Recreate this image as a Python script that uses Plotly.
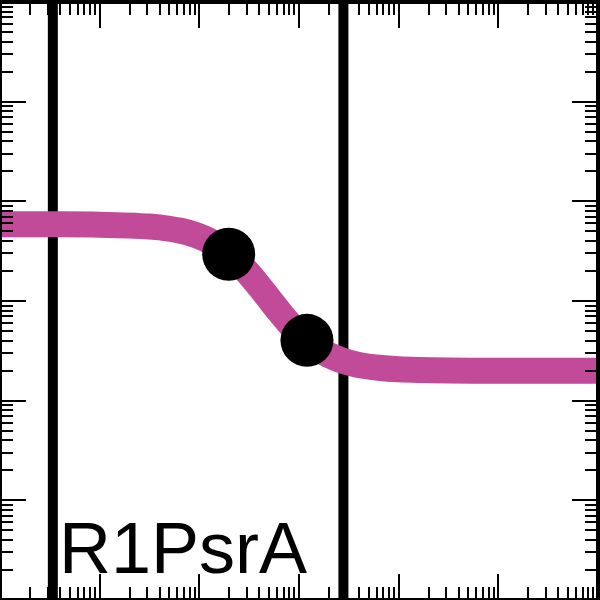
import plotly.graph_objects as go

# Fitted curve samples (x: concentration, y: signal), log-log axes
curve_x = [0.001, 0.00316, 0.01, 0.0316, 0.0501, 0.0631, 0.0794, 0.1, 0.126, 0.158,
           0.2, 0.251, 0.316, 0.398, 0.501, 0.631, 0.794, 1.0, 1.26, 1.58,
           2.0, 2.82, 3.98, 6.31, 10, 31.6, 100, 1000]
curve_y = [58884, 58800, 58345, 55847, 53088, 50933, 48084, 44463, 40087, 34995,
           29512, 23878, 18621, 14093, 10520, 7870, 5984, 4710, 3837, 3258,
           2864, 2495, 2286, 2138, 2065, 2009, 2000, 1995]

# Measured points
point_x = [0.197, 1.202]
point_y = [29512, 4027]

# Reference vertical lines
vline_x = [0.00339, 2.79]

label = "R1PsrA"

fig = go.Figure()
for vx in vline_x:
    fig.add_trace(go.Scatter(x=[vx, vx], y=[10, 1e7], mode="lines",
                             line=dict(color="black", width=10),
                             showlegend=False, hoverinfo="skip"))
fig.add_trace(go.Scatter(x=curve_x, y=curve_y, mode="lines",
                         line=dict(color="#c14b98", width=26, shape="spline"),
                         showlegend=False))
fig.add_trace(go.Scatter(x=point_x, y=point_y, mode="markers",
                         marker=dict(color="black", size=53, line=dict(width=0)),
                         showlegend=False))

axis_common = dict(
    type="log", showgrid=False, zeroline=False, showticklabels=False,
    ticks="inside", ticklen=26, tickwidth=2, tickcolor="black",
    dtick=1, showline=True, linecolor="black", linewidth=2, mirror="allticks",
    minor=dict(ticks="inside", ticklen=13, tickwidth=2, tickcolor="black",
               dtick="D1", showgrid=False),
)
fig.update_xaxes(range=[-3, 3], **axis_common)
fig.update_yaxes(range=[1, 7], **axis_common)

fig.add_shape(type="rect", xref="paper", yref="paper", x0=0, y0=0, x1=1, y1=1,
              line=dict(color="black", width=4), layer="above")

fig.add_annotation(text=label, xref="paper", yref="paper", x=57 / 600, y=1 - 548 / 600,
                   xanchor="left", yanchor="middle", showarrow=False,
                   font=dict(family="Liberation Sans", size=72, color="black"))

fig.update_layout(width=600, height=600, margin=dict(l=0, r=0, t=0, b=0),
                  paper_bgcolor="white", plot_bgcolor="white")

fig.write_html("out.html")
